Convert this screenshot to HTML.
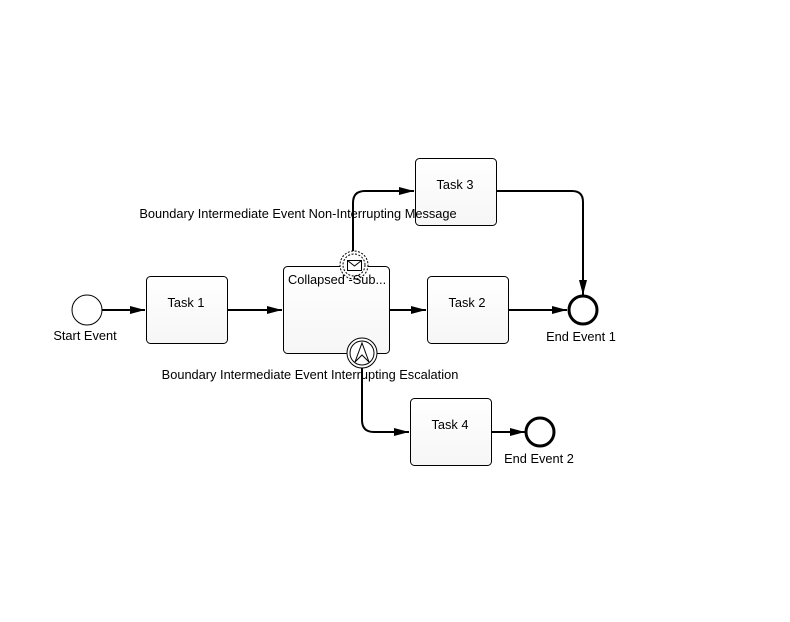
<!DOCTYPE html>
<html><head><meta charset="utf-8"><style>
html,body{margin:0;padding:0;background:#fff;width:790px;height:622px;overflow:hidden}
svg text{font-family:"Liberation Sans",Arial,sans-serif;font-size:12.8px;fill:#000}
</style></head><body>
<svg width="790" height="622" viewBox="0 0 790 622" xmlns="http://www.w3.org/2000/svg">
<defs>
<linearGradient id="g" x1="0" y1="0" x2="0" y2="1"><stop offset="0" stop-color="#ffffff"/><stop offset="1" stop-color="#f6f6f6"/></linearGradient>
<marker id="a" markerWidth="16" markerHeight="8" refX="15" refY="4" orient="auto" markerUnits="userSpaceOnUse"><path d="M0,0 L15,4 L0,8 Z" fill="#000"/></marker>
</defs>
<g stroke="#000" stroke-width="2" fill="none">
<path d="M102,310 H145" marker-end="url(#a)"/>
<path d="M227,310 H282" marker-end="url(#a)"/>
<path d="M389,310 H426" marker-end="url(#a)"/>
<path d="M508,310 H567" marker-end="url(#a)"/>
<path d="M353,258 V203 Q353,191 365,191 H414" marker-end="url(#a)"/>
<path d="M496,191 H572 Q583,191 583,202 V295" marker-end="url(#a)"/>
<path d="M362,367 V420 Q362,432 374,432 H409" marker-end="url(#a)"/>
<path d="M491,432 H525" marker-end="url(#a)"/>
</g>
<g stroke="#000" stroke-width="1" fill="url(#g)">
<rect x="146.5" y="276.5" width="81" height="67" rx="4"/>
<rect x="283.5" y="266.5" width="106" height="87" rx="4"/>
<rect x="427.5" y="276.5" width="81" height="67" rx="4"/>
<rect x="415.5" y="158.5" width="81" height="67" rx="4"/>
<rect x="410.5" y="398.5" width="81" height="67" rx="4"/>
</g>
<circle cx="87" cy="310" r="15" fill="#fff" stroke="#000" stroke-width="1"/>
<circle cx="583" cy="310" r="14" fill="#fff" stroke="#000" stroke-width="3"/>
<circle cx="540" cy="432" r="14" fill="#fff" stroke="#000" stroke-width="3"/>
<circle cx="354" cy="265" r="14" fill="#fff" stroke="#000" stroke-width="1" stroke-dasharray="2,1.5"/>
<circle cx="354" cy="265" r="11" fill="#fff" stroke="#000" stroke-width="1" stroke-dasharray="2,1.5"/>
<rect x="347.5" y="260.5" width="14" height="10" fill="#fff" stroke="#000"/>
<path d="M347.5,260.5 L354.5,266 L361.5,260.5" fill="none" stroke="#000"/>
<circle cx="362" cy="353" r="15" fill="#fff" stroke="#000" stroke-width="1"/>
<circle cx="362" cy="353" r="12" fill="#fff" stroke="#000" stroke-width="1"/>
<path d="M355,362 L362,343 L369,362 L362,355 Z" fill="#fff" stroke="#000"/>
<text x="186" y="307" text-anchor="middle">Task 1</text>
<text x="288" y="284">Collapsed -Sub...</text>
<text x="467" y="307" text-anchor="middle">Task 2</text>
<text x="455" y="189" text-anchor="middle">Task 3</text>
<text x="450" y="429" text-anchor="middle">Task 4</text>
<text x="85" y="340" text-anchor="middle">Start Event</text>
<text x="581" y="341" text-anchor="middle">End Event 1</text>
<text x="539" y="463" text-anchor="middle">End Event 2</text>
<text x="298" y="218" text-anchor="middle">Boundary Intermediate Event Non-Interrupting Message</text>
<text x="310" y="379" text-anchor="middle">Boundary Intermediate Event Interrupting Escalation</text>
</svg>
</body></html>
